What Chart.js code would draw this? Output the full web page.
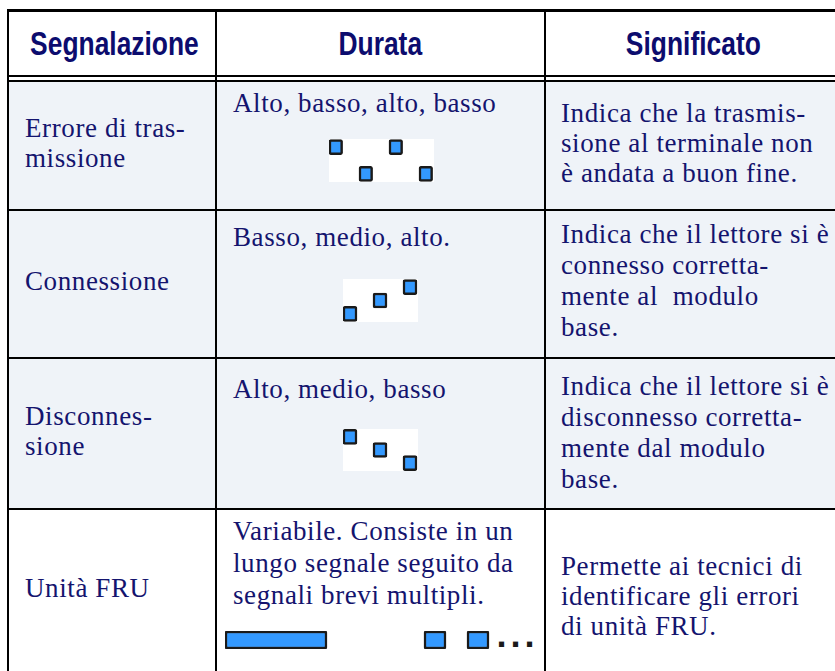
<!DOCTYPE html>
<html>
<head>
<meta charset="utf-8">
<script src="https://cdn.jsdelivr.net/npm/chart.js@4.4.1/dist/chart.umd.min.js"></script>
<style>
  html, body { margin: 0; padding: 0; background: #fff; }
  body { width: 835px; height: 671px; position: relative; overflow: hidden; }
  .cell { position: absolute; }
  .shade { background: #eff3f8; }
  .line { position: absolute; background: #000; }
  .head {
    position: absolute; top: 25px; text-align: center;
    font-family: "Liberation Sans Narrow", "Liberation Sans", Arial, sans-serif;
    font-weight: bold; font-size: 33px; color: #0c0c6e; white-space: nowrap;
  }
  .head span { display: inline-block; transform: scaleX(0.8); }
  .txt {
    position: absolute; font-family: "Liberation Serif", serif; font-size: 27px;
    letter-spacing: 0.6px; line-height: 30px; color: #14146e; white-space: nowrap;
  }
  .dots {
    position: absolute; font-family: "DejaVu Sans", sans-serif; font-weight: bold;
    font-size: 29px; letter-spacing: 3px; color: #1a1a1a;
  }
  canvas { position: absolute; }
</style>
</head>
<body>
<!-- backgrounds -->
<div class="cell shade" style="left:7px;top:82px;width:840px;height:127px"></div>
<div class="cell shade" style="left:7px;top:211px;width:840px;height:146px"></div>
<div class="cell shade" style="left:7px;top:359px;width:840px;height:149px"></div>

<!-- grid lines -->
<div class="line" style="left:7px;top:9px;width:840px;height:3px"></div>
<div class="line" style="left:7px;top:75px;width:840px;height:2px"></div>
<div class="line" style="left:7px;top:80px;width:840px;height:2px"></div>
<div class="line" style="left:7px;top:209px;width:840px;height:2px"></div>
<div class="line" style="left:7px;top:357px;width:840px;height:2px"></div>
<div class="line" style="left:7px;top:508px;width:840px;height:2px"></div>
<div class="line" style="left:7px;top:9px;width:2px;height:670px"></div>
<div class="line" style="left:215px;top:9px;width:2px;height:670px"></div>
<div class="line" style="left:544px;top:9px;width:2px;height:670px"></div>

<!-- headers -->
<div class="head" style="left:9px;width:200px"><span>Segnalazione</span></div>
<div class="head" style="left:217px;width:327px"><span>Durata</span></div>
<div class="head" style="left:546px;width:294px"><span>Significato</span></div>

<!-- column 1 -->
<div class="txt" style="left:25px;top:113px">Errore di tras-<br>missione</div>
<div class="txt" style="left:25px;top:266px">Connessione</div>
<div class="txt" style="left:25px;top:401px">Disconnes-<br>sione</div>
<div class="txt" style="left:25px;top:573px">Unità FRU</div>

<!-- column 2 -->
<div class="txt" style="left:233px;top:88px">Alto, basso, alto, basso</div>
<div class="txt" style="left:233px;top:222px">Basso, medio, alto.</div>
<div class="txt" style="left:233px;top:374px">Alto, medio, basso</div>
<div class="txt" style="left:233px;top:515px;line-height:32px">Variabile. Consiste in un<br>lungo segnale seguito da<br>segnali brevi multipli.</div>

<!-- column 3 -->
<div class="txt" style="left:561px;top:98px">Indica che la trasmis-<br>sione al terminale non<br>è andata a buon fine.</div>
<div class="txt" style="left:561px;top:219px;line-height:31px">Indica che il lettore si è<br>connesso corretta-<br>mente al&nbsp; modulo<br>base.</div>
<div class="txt" style="left:561px;top:371px;line-height:31px">Indica che il lettore si è<br>disconnesso corretta-<br>mente dal modulo<br>base.</div>
<div class="txt" style="left:561px;top:551px">Permette ai tecnici di<br>identificare gli errori<br>di unità FRU.</div>

<!-- beep diagrams -->
<canvas id="beep1" width="105" height="43" style="left:329px;top:139px;background:#fff"></canvas>
<canvas id="beep2" width="75" height="43" style="left:343px;top:279px;background:#fff"></canvas>
<canvas id="beep3" width="75" height="42" style="left:343px;top:429px;background:#fff"></canvas>
<canvas id="beep4" width="265" height="18" style="left:225px;top:631px"></canvas>
<div class="dots" style="left:496px;top:620px">...</div>

<script>
// tone levels: 1 = basso, 2 = medio, 3 = alto
const tone = { basso: 1, medio: 2, alto: 3 };

// each beep: start and end in ms, plus tone
const errStart = [0, 150, 300, 450];
const errEnd = [68, 218, 368, 518];
const errTone = [tone.alto, tone.basso, tone.alto, tone.basso];

const connStart = [0, 150, 300];
const connEnd = [70, 220, 370];
const connTone = [tone.basso, tone.medio, tone.alto];

const discStart = [0, 150, 300];
const discEnd = [70, 220, 370];
const discTone = [tone.alto, tone.medio, tone.basso];

// FRU: one long beep followed by short ones
const fruStart = [0, 995, 1210];
const fruEnd = [510, 1105, 1320];
const fruTone = [1, 1, 1];

const beepFill = "#3399ff";
const beepEdge = "#1a1a1a";

function drawBeeps(id, starts, ends, tones, xMax, yMin, yMax, thick) {
    const ctx = document.getElementById(id).getContext('2d');
    const data = starts.map((s, i) => ({ x: [s, ends[i]], y: tones[i] }));
    return new Chart(ctx, {
        type: 'bar',
        data: {
            datasets: [{
                data: data,
                backgroundColor: beepFill,
                borderColor: beepEdge,
                borderWidth: 2.5,
                borderRadius: 2,
                borderSkipped: false,
                barThickness: thick
            }]
        },
        options: {
            indexAxis: 'y',
            responsive: false,
            animation: false,
            devicePixelRatio: 1,
            layout: { padding: 0 },
            plugins: { legend: { display: false }, tooltip: { enabled: false } },
            scales: {
                x: { type: 'linear', display: false, min: 0, max: xMax },
                y: { type: 'linear', display: false, min: yMin, max: yMax, offset: false }
            }
        }
    });
}

drawBeeps('beep1', errStart, errEnd, errTone, 525, 0.4, 3.6, 15);
drawBeeps('beep2', connStart, connEnd, connTone, 375, 0.4, 3.6, 15);
drawBeeps('beep3', discStart, discEnd, discTone, 375, 0.4, 3.6, 15);
drawBeeps('beep4', fruStart, fruEnd, fruTone, 1325, 0.5, 1.5, 18);
</script>
</body>
</html>
